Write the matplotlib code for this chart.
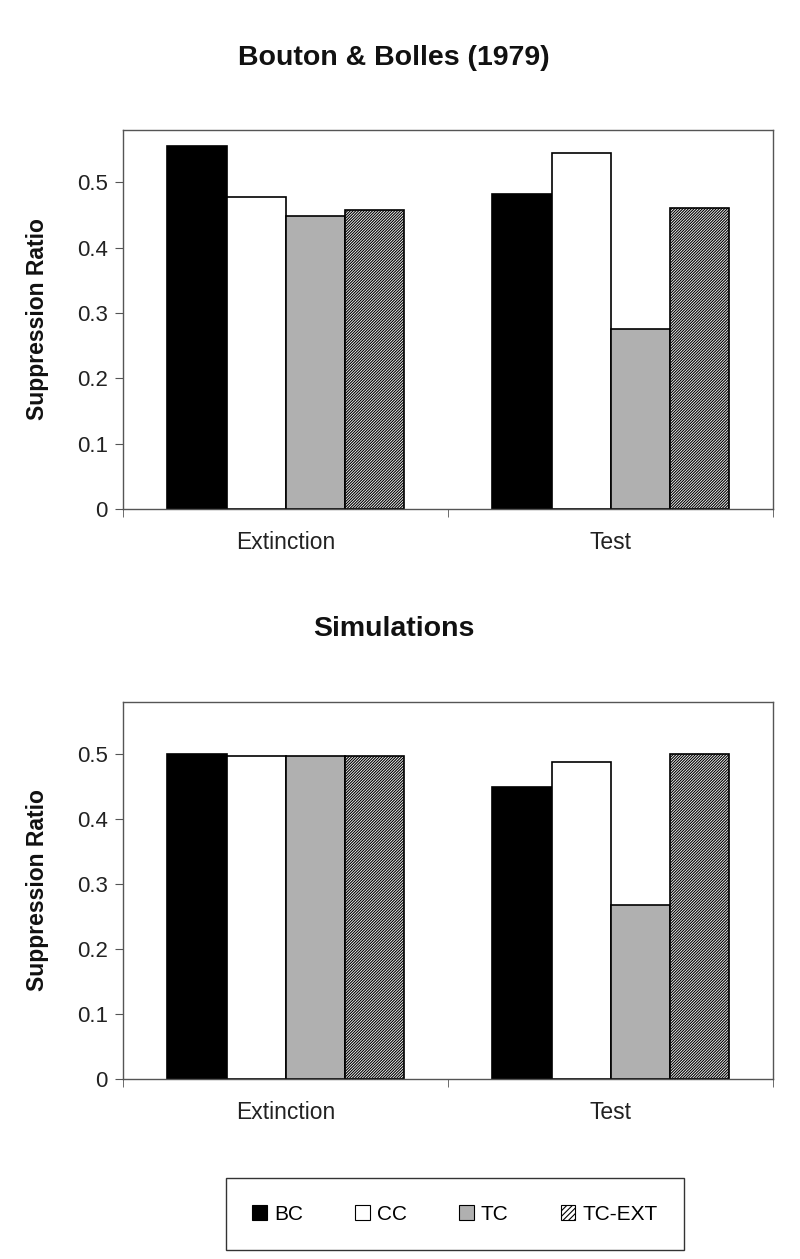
import matplotlib
matplotlib.use("Agg")
import matplotlib.pyplot as plt
import numpy as np
from matplotlib.patches import Patch

plt.rcParams['font.family'] = ['Liberation Sans', 'DejaVu Sans']
plt.rcParams['hatch.linewidth'] = 0.8

phases = ["Extinction", "Test"]
groups = ["BC", "CC", "TC", "TC-EXT"]
observed = {
    "BC": [0.555, 0.482],
    "CC": [0.478, 0.545],
    "TC": [0.448, 0.276],
    "TC-EXT": [0.457, 0.460],
}
simulated = {
    "BC": [0.500, 0.450],
    "CC": [0.497, 0.488],
    "TC": [0.497, 0.267],
    "TC-EXT": [0.497, 0.500],
}
titles = ["Bouton & Bolles (1979)", "Simulations"]
yticks = [0, 0.1, 0.2, 0.3, 0.4, 0.5]
ytick_labels = ["0", "0.1", "0.2", "0.3", "0.4", "0.5"]

styles = {
    "BC": dict(facecolor="black", hatch=None),
    "CC": dict(facecolor="white", hatch=None),
    "TC": dict(facecolor="#b0b0b0", hatch=None),
    "TC-EXT": dict(facecolor="white", hatch="////////////"),
}

fig = plt.figure(figsize=(8, 12.59), dpi=100)
ax1 = fig.add_axes([0.154, 0.5957, 0.8125, 0.301])
ax2 = fig.add_axes([0.154, 0.143, 0.8125, 0.2994])
title_y = [1 - 58 / 1259, 1 - 629 / 1259]

bw = 0.182
x = np.arange(len(phases))
spine_col = "#555555"
for ax, data, title, ty in zip([ax1, ax2], [observed, simulated], titles, title_y):
    for i, g in enumerate(groups):
        off = (i - 1.5) * bw
        ax.bar(x + off, data[g], width=bw, facecolor=styles[g]["facecolor"],
               hatch=styles[g]["hatch"], edgecolor="black", linewidth=1.2, zorder=2)
    ax.set_xlim(-0.5, 1.5)
    ax.set_ylim(0, 0.58)
    ax.set_yticks(yticks)
    ax.set_yticklabels(ytick_labels, fontsize=16, color="#222222")
    ax.set_xticks(x)
    ax.set_xticklabels(phases, fontsize=16.5, color="#222222")
    ax.tick_params(axis='x', which='major', length=0, pad=16)
    ax.set_xticks([-0.5, 0.5, 1.5], minor=True)
    ax.tick_params(axis='x', which='minor', length=6, direction='out', color=spine_col)
    ax.tick_params(axis='y', length=6, direction='out', color=spine_col, pad=5)
    for s in ax.spines.values():
        s.set_color(spine_col)
        s.set_linewidth(1.0)
    ax.set_ylabel("Suppression Ratio", fontsize=16.5, fontweight='bold', color="#111111")
    ax.yaxis.set_label_coords(-0.114, 0.5)
    fig.text(0.492, ty, title, fontsize=20.5, fontweight='bold', ha='center', va='center',
             color="#111111")

handles = [Patch(facecolor=styles[g]["facecolor"],
                 hatch=("//////" if styles[g]["hatch"] else None),
                 edgecolor="black", linewidth=0.8) for g in groups]
leg = fig.legend(handles, groups, loc='center', bbox_to_anchor=(455 / 800, 1 - 1214 / 1259),
                 ncol=4, fontsize=15, frameon=True, fancybox=False,
                 handlelength=0.7, handleheight=0.7, handletextpad=0.35,
                 columnspacing=2.5, borderpad=1.25, borderaxespad=0, edgecolor="black")
leg.get_frame().set_linewidth(1.0)

fig.savefig("out.png", dpi=100, facecolor="white")
